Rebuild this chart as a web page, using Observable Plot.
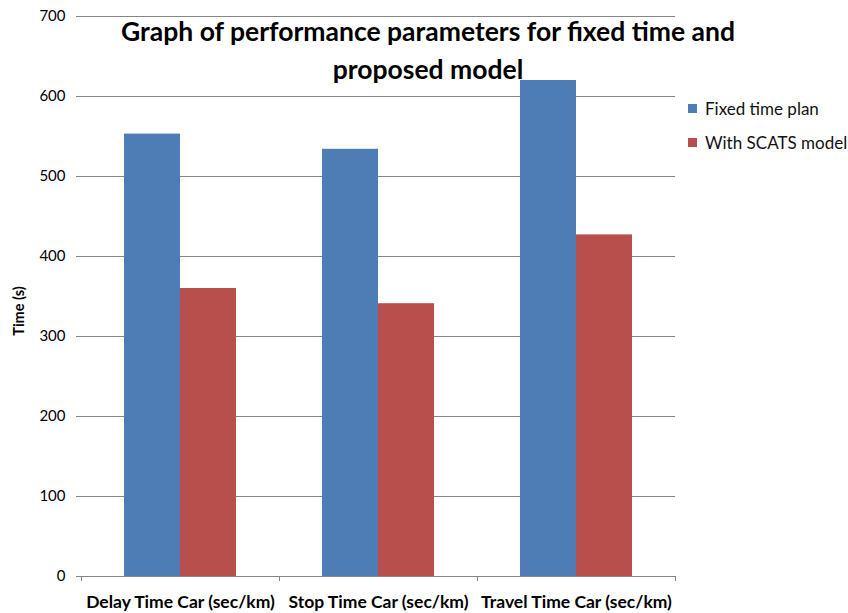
<!DOCTYPE html>
<html>
<head>
<meta charset="utf-8">
<script src="https://cdn.jsdelivr.net/npm/d3@7"></script>
<script src="https://cdn.jsdelivr.net/npm/@observablehq/plot@0.6"></script>
<style>
  body { margin: 0; background: #fff; }
  #wrap { position: relative; width: 848px; height: 613px; font-family: Lato, "Open Sans", sans-serif; overflow: hidden; }
  #title { position: absolute; left: 0; width: 856px; top: 12px; text-align: center; font-weight: bold; font-size: 26.5px; line-height: 38px; color: #000; }
  #legend { position: absolute; left: 688px; top: 91px; font-size: 17px; color: #111; white-space: nowrap; }
  .li { display: flex; align-items: center; height: 34px; white-space: nowrap; }
  .sw { width: 9px; height: 9px; margin-right: 8px; flex: none; }
  #ylab { position: absolute; left: 18px; top: 311px; transform: translate(-50%, -50%) rotate(-90deg); font-weight: bold; font-size: 14.5px; white-space: nowrap; }
</style>
</head>
<body>
<div id="wrap"></div>
<script>
const categories = ["Delay Time Car (sec/km)", "Stop Time Car (sec/km)", "Travel Time Car (sec/km)"];
const seriesNames = ["Fixed time plan", "With SCATS model"];
const fixedTime = [553, 534, 620];
const scatsModel = [360, 341, 427];
const seriesColors = ["#4E7CB5", "#B94F4C"];
const yTicks = [0, 100, 200, 300, 400, 500, 600, 700];
const titleLines = ["Graph of performance parameters for fixed time and", "proposed model"];
const yLabel = "Time (s)";

const data = [];
categories.forEach((c, i) => {
  data.push({category: c, series: seriesNames[0], value: fixedTime[i]});
  data.push({category: c, series: seriesNames[1], value: scatsModel[i]});
});

const chart = Plot.plot({
  width: 848,
  height: 613,
  marginLeft: 80,
  marginRight: 172,
  marginTop: 16,
  marginBottom: 37,
  style: {fontFamily: "Lato, 'Open Sans', sans-serif", color: "#000", background: "#fff"},
  fx: {domain: categories, padding: 0, label: null},
  x: {domain: seriesNames, paddingInner: 0, paddingOuter: 0.75, axis: null},
  y: {domain: [0, 700], label: null},
  color: {domain: seriesNames, range: seriesColors},
  marks: [
    Plot.gridY(yTicks, {stroke: "#868686", strokeOpacity: 1, strokeWidth: 1}),
    Plot.barY(data, {fx: "category", x: "series", y: "value", fill: "series"}),
    Plot.axisY(yTicks, {tickSize: 5, tickPadding: 11, fontSize: 15, stroke: "#868686", label: null}),
    Plot.axisFx({anchor: "bottom", tickSize: 0, tickPadding: 19, fontSize: 17.5, fontWeight: "bold", label: null}),
    Plot.ruleX([0], {stroke: "#868686"})
  ]
});

const wrap = document.getElementById("wrap");
wrap.appendChild(chart);

// x-axis baseline and category boundary ticks from the fx scale
const fx = chart.scale("fx");
const y = chart.scale("y");
const svg = d3.select(chart);
const bw = fx.bandwidth;
const edges = categories.map(c => fx.apply(c)).concat([fx.apply(categories[categories.length - 1]) + bw]);
const y0 = y.apply(0);
svg.append("line").attr("x1", edges[0]).attr("x2", edges[edges.length - 1]).attr("y1", y0 + 0.5).attr("y2", y0 + 0.5).attr("stroke", "#868686");
svg.selectAll(null).data(edges).join("line")
  .attr("x1", d => d + 0.5).attr("x2", d => d + 0.5)
  .attr("y1", y0).attr("y2", y0 + 5).attr("stroke", "#868686");

const title = document.createElement("div");
title.id = "title";
title.innerHTML = titleLines.join("<br>");
wrap.appendChild(title);

const yl = document.createElement("div");
yl.id = "ylab";
yl.textContent = yLabel;
wrap.appendChild(yl);

const legend = document.createElement("div");
legend.id = "legend";
seriesNames.forEach((s, i) => {
  const row = document.createElement("div");
  row.className = "li";
  row.innerHTML = `<span class="sw" style="background:${seriesColors[i]}"></span><span>${s}</span>`;
  legend.appendChild(row);
});
wrap.appendChild(legend);
</script>
</body>
</html>
